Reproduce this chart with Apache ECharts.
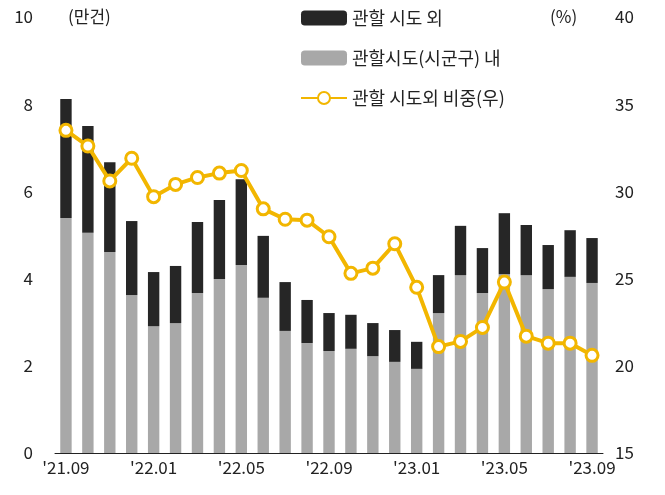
<!DOCTYPE html>
<html><head><meta charset="utf-8">
<script src="https://cdn.jsdelivr.net/npm/echarts@6/dist/echarts.min.js"></script>
<style>body{margin:0}#c{width:665px;height:495px}</style>
</head><body><div id="c"></div>
<script>
const months = ["'21.09","'21.10","'21.11","'21.12","'22.01","'22.02","'22.03","'22.04","'22.05","'22.06","'22.07","'22.08","'22.09","'22.10","'22.11","'22.12","'23.01","'23.02","'23.03","'23.04","'23.05","'23.06","'23.07","'23.08","'23.09"];
const total = [8.12,7.5,6.67,5.32,4.15,4.29,5.3,5.8,6.28,4.98,3.92,3.51,3.21,3.17,2.98,2.82,2.55,4.08,5.21,4.7,5.5,5.23,4.77,5.11,4.93];
const inside = [5.39,5.05,4.61,3.62,2.91,2.98,3.67,3.99,4.31,3.56,2.8,2.52,2.34,2.39,2.22,2.09,1.93,3.21,4.08,3.67,4.1,4.08,3.76,4.04,3.9];
const share = [33.5,32.6,30.6,31.9,29.7,30.4,30.8,31.05,31.2,29.0,28.4,28.35,27.4,25.3,25.6,27.0,24.5,21.1,21.4,22.2,24.8,21.7,21.3,21.3,20.6];
const outside = total.map((t, i) => +(t - inside[i]).toFixed(2));

const chart = echarts.init(document.getElementById('c'));
const font = {fontFamily: 'Noto Sans CJK KR', fontSize: 17, color: '#222'};
chart.setOption({
    animation: false,
    grid: {left: 55, right: 62, top: 17, bottom: 42},
    legend: {
        orient: 'vertical', left: 295, top: 4, itemGap: 22,
        itemWidth: 46, itemHeight: 15,
        textStyle: {...font, fontSize: 18},
        data: ['관할 시도 외', '관할시도(시군구) 내', '관할 시도외 비중(우)']
    },
    graphic: [
        {type: 'text', left: 68, top: 8, style: {text: '(만건)', font: '17px "Noto Sans CJK KR"', fill: '#222'}},
        {type: 'text', left: 550, top: 8, style: {text: '(%)', font: '17px "Noto Sans CJK KR"', fill: '#222'}}
    ],
    xAxis: {
        type: 'category', data: months,
        axisLine: {lineStyle: {color: '#222'}},
        axisTick: {interval: 3, alignWithLabel: true, length: 6, lineStyle: {color: '#222'}},
        axisLabel: {interval: 3, ...font, margin: 6}
    },
    yAxis: [
        {type: 'value', min: 0, max: 10, interval: 2, splitLine: {show: false},
         axisLabel: {...font, margin: 22}},
        {type: 'value', min: 15, max: 40, interval: 5, splitLine: {show: false},
         axisLabel: {...font, margin: 12}}
    ],
    series: [
        {name: '관할시도(시군구) 내', type: 'bar', stack: 'a', data: inside, barWidth: '52%',
         itemStyle: {color: '#a8a8a8'}},
        {name: '관할 시도 외', type: 'bar', stack: 'a', data: outside,
         itemStyle: {color: '#262626'}},
        {name: '관할 시도외 비중(우)', type: 'line', yAxisIndex: 1, data: share,
         symbol: 'circle', symbolSize: 12,
         lineStyle: {color: '#f2b600', width: 4},
         itemStyle: {color: '#fff', borderColor: '#f2b600', borderWidth: 3}}
    ]
});
</script></body></html>
